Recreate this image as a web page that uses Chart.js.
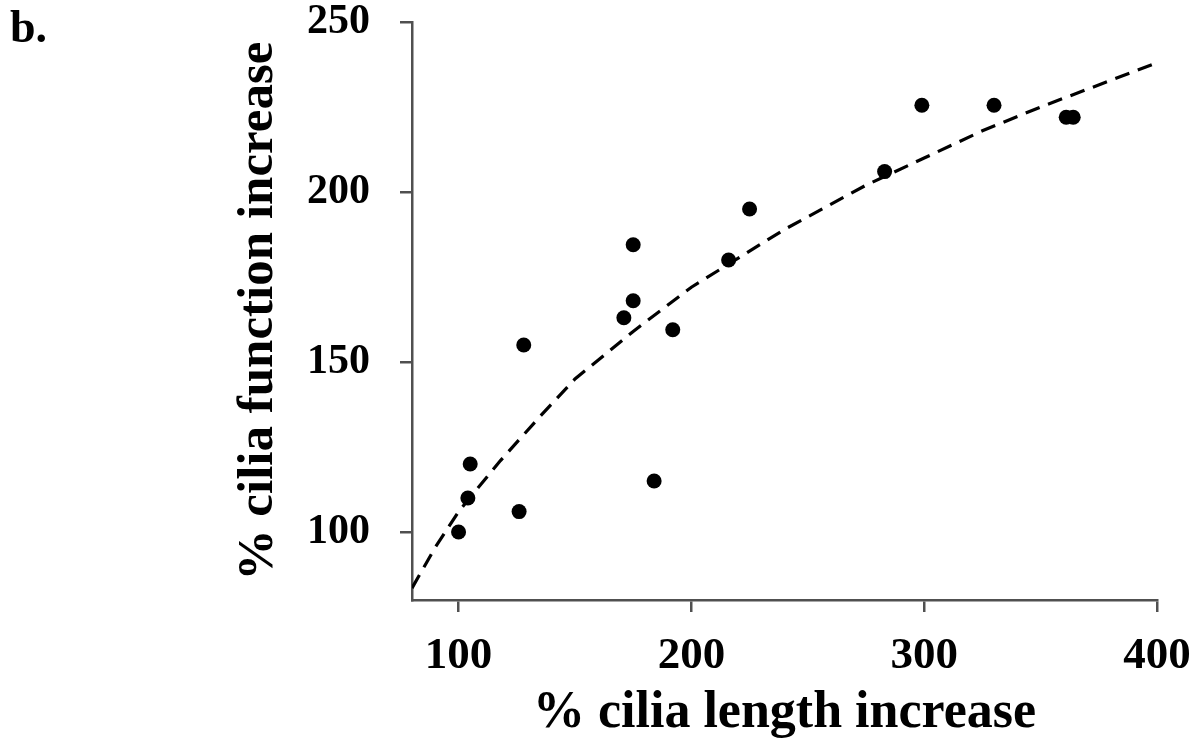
<!DOCTYPE html>
<html>
<head>
<meta charset="utf-8">
<script src="https://cdn.jsdelivr.net/npm/chart.js@4/dist/chart.umd.min.js"></script>
<style>
  html, body { margin: 0; padding: 0; background: #fff; }
  #wrap { position: relative; width: 1199px; height: 745px; }
  #panel-label {
    position: absolute; left: 10px; top: 0px;
    font: bold 46px "Liberation Serif", "Times New Roman", serif; color: #000;
  }
</style>
</head>
<body>
<div id="wrap">
  <canvas id="chart" width="1199" height="745"></canvas>
  <div id="panel-label">b.</div>
</div>
<script>
"use strict";

// ── Data ────────────────────────────────────────────────────────────────────
const lengthPct   = [100, 104, 105, 126, 128, 171, 175, 175, 184, 192, 216, 225, 283, 299, 330, 361, 364];
const functionPct = [100, 110, 120, 106, 155, 163, 168, 184.5, 115, 159.5, 180, 195, 206, 225.5, 225.5, 222, 222];

// dashed trend line, sampled along the drawn curve
const trendX = [80, 90, 100, 118, 135, 150, 175, 200, 240, 275, 300, 325, 350, 400];
const trendY = [83.5, 95.5, 106, 121, 134, 145, 159, 172, 189, 202, 210, 218, 225, 238];

const xTicks = [100, 200, 300, 400];
const yTicks = [100, 150, 200, 250];

// ── Style ────────────────────────────────────────────────────────────────────
const AXIS = "#505050";
const SERIF = "'Liberation Serif', 'Times New Roman', serif";

const toPts = (xs, ys) => xs.map((x, i) => ({ x, y: ys[i] }));

new Chart(document.getElementById("chart"), {
  type: "scatter",
  data: {
    datasets: [
      {
        label: "trend",
        type: "line",
        data: toPts(trendX, trendY),
        borderColor: "#000",
        borderWidth: 3.2,
        borderDash: [15, 9],
        pointRadius: 0,
        tension: 0,
        fill: false,
      },
      {
        label: "samples",
        data: toPts(lengthPct, functionPct),
        backgroundColor: "#000",
        borderColor: "#000",
        pointRadius: 7.5,
        pointBorderWidth: 0,
      },
    ],
  },
  options: {
    animation: false,
    responsive: false,
    layout: { padding: { left: 228, top: 22, right: 42, bottom: 0 } },
    plugins: { legend: { display: false }, tooltip: { enabled: false } },
    scales: {
      x: {
        type: "linear",
        min: 80, max: 400,
        afterBuildTicks: s => { s.ticks = xTicks.map(v => ({ value: v })); },
        afterFit: s => { s.height = 145; s.paddingLeft = 0; s.paddingRight = 0; },
        border: { display: true, color: AXIS, width: 2.5 },
        grid: { drawOnChartArea: false, drawTicks: true, tickLength: 12, color: AXIS, lineWidth: 2.5 },
        ticks: {
          color: "#000", padding: 22,
          font: { family: SERIF, size: 45, weight: "bold", lineHeight: 1 },
        },
        title: {
          display: true, text: "% cilia length increase", color: "#000",
          padding: 0,
          font: { family: SERIF, size: 52, weight: "bold", lineHeight: 1.2 },
        },
      },
      y: {
        type: "linear",
        min: 80, max: 250,
        afterBuildTicks: s => { s.ticks = yTicks.map(v => ({ value: v })); },
        afterFit: s => { s.width = 184; s.paddingTop = 0; s.paddingBottom = 0; },
        border: { display: true, color: AXIS, width: 2.5 },
        grid: { drawOnChartArea: false, drawTicks: true, tickLength: 12, color: AXIS, lineWidth: 2.5 },
        ticks: {
          color: "#000", padding: 30,
          font: { family: SERIF, size: 42, weight: "bold", lineHeight: 1 },
        },
        title: {
          display: true, text: "% cilia function increase", color: "#000",
          padding: 0,
          font: { family: SERIF, size: 51, weight: "bold", lineHeight: 1.2 },
        },
      },
    },
  },
});
</script>
</body>
</html>
